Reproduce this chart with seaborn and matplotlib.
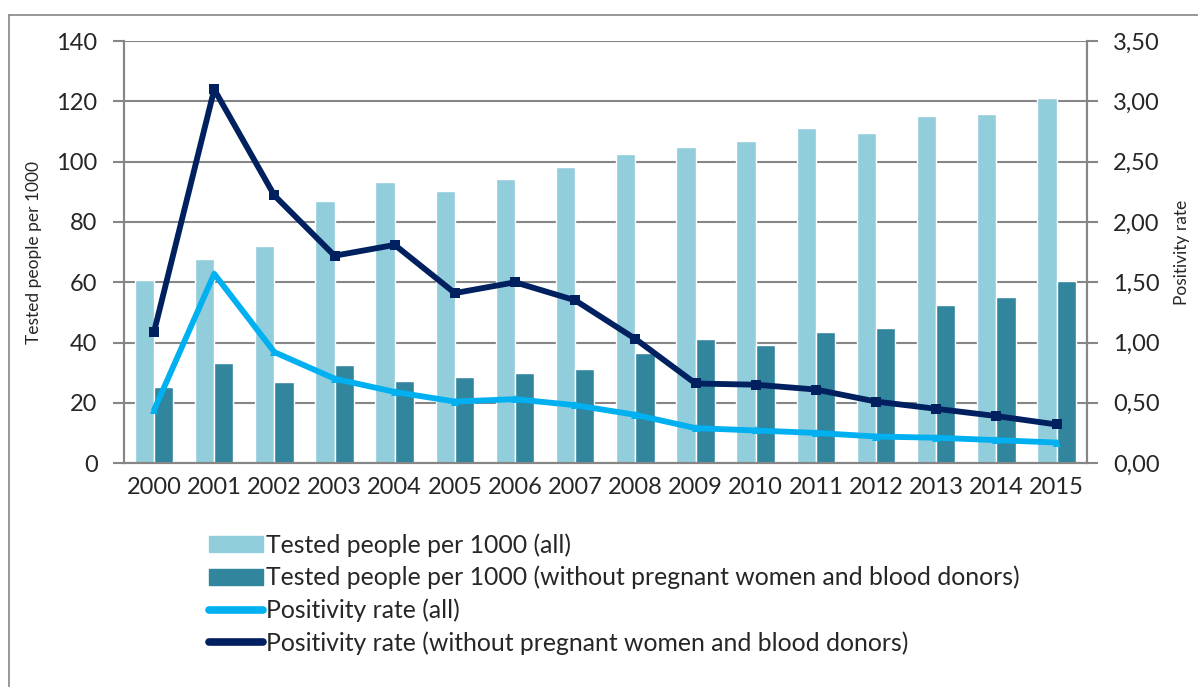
import pandas as pd
import matplotlib.pyplot as plt
import matplotlib.lines as mlines
import numpy as np
import seaborn as sns

# %%
# values

years = ['2000', '2001', '2002', '2003', '2004', '2005', '2006', '2007',
         '2008', '2009', '2010', '2011', '2012', '2013', '2014', '2015']

tested_all = [60.7, 67.7, 72.0, 86.9, 93.2, 90.2, 94.2, 98.2,
              102.5, 104.8, 106.8, 111.1, 109.5, 115.1, 115.8, 121.1]
tested_excl = [25.2, 33.2, 26.9, 32.5, 27.2, 28.5, 29.9, 31.2,
               36.5, 41.1, 39.2, 43.5, 44.8, 52.4, 55.1, 60.4]

pos_all = [0.44, 1.57, 0.92, 0.70, 0.59, 0.51, 0.53, 0.48,
           0.40, 0.29, 0.27, 0.25, 0.22, 0.21, 0.19, 0.17]
pos_excl = [1.09, 3.10, 2.22, 1.72, 1.81, 1.41, 1.50, 1.35,
            1.03, 0.66, 0.65, 0.61, 0.51, 0.45, 0.39, 0.32]

lbl_bar1 = 'Tested people per 1000 (all)'
lbl_bar2 = 'Tested people per 1000 (without pregnant women and blood donors)'
lbl_line1 = 'Positivity rate (all)'
lbl_line2 = 'Positivity rate (without pregnant women and blood donors)'

# %%

df_bars = pd.DataFrame({'ano': years, lbl_bar1: tested_all, lbl_bar2: tested_excl})
df_bars = df_bars.melt(id_vars='ano', var_name='serie', value_name='valor')

df_lines = pd.DataFrame({'pos': np.arange(len(years)), 'all': pos_all, 'excl': pos_excl})

# %%

sns.set_style('white')
plt.rcParams['font.family'] = ['Lato', 'DejaVu Sans']

c_bar1 = '#92CDDC'
c_bar2 = '#31859C'
c_line1 = '#00B0F0'
c_line2 = '#002060'
c_grid = '#868686'

fig = plt.figure(figsize=(11.98, 6.87), dpi=100)
ax = fig.add_axes([0.1035, 0.326, 0.8035, 0.614])

sns.barplot(data=df_bars, x='ano', y='valor', hue='serie',
            palette=[c_bar1, c_bar2], width=0.64, gap=0, saturation=1,
            legend=False, ax=ax, zorder=2)

ax.set_ylim(0, 140)
ax.set_yticks(range(0, 141, 20))
ax.set_xlim(-0.5, len(years) - 0.5)
ax.grid(axis='y', color=c_grid, linewidth=1.5, zorder=0)
ax.set_axisbelow(True)

ax2 = ax.twinx()
sns.lineplot(data=df_lines, x='pos', y='all', color=c_line1, linewidth=4.2,
             marker='^', markersize=6, markeredgewidth=0, ax=ax2, zorder=3)
sns.lineplot(data=df_lines, x='pos', y='excl', color=c_line2, linewidth=4.2,
             marker='s', markersize=7, markeredgewidth=0, ax=ax2, zorder=3)
ax2.set_ylim(0, 3.5)
ax2.set_yticks(np.arange(0, 3.51, 0.5))
ax2.set_yticklabels([f'{v:.2f}'.replace('.', ',') for v in np.arange(0, 3.51, 0.5)])
ax2.set_xlim(-0.5, len(years) - 0.5)

# spines / ticks
for a in (ax, ax2):
    for s in a.spines.values():
        s.set_color(c_grid)
        s.set_linewidth(1.5)
    a.spines['top'].set_visible(False)

ax.set_xticks(np.arange(len(years)))
ax.set_xticklabels(years)
ax.tick_params(axis='x', length=0, pad=10, labelsize=17)
ax.set_xticks(np.arange(-0.5, len(years)), minor=True)
ax.tick_params(axis='x', which='minor', length=8, width=1.5, color=c_grid, direction='out')
ax.tick_params(axis='y', length=8, width=1.5, color=c_grid, direction='out', pad=11, labelsize=17, left=True)
ax2.tick_params(axis='y', length=8, width=1.5, color=c_grid, direction='out', pad=11, labelsize=17, right=True)

ax.set_xlabel('')
ax.set_ylabel('Tested people per 1000', fontsize=12.5, labelpad=10)
ax2.set_ylabel('Positivity rate', fontsize=12.5, labelpad=10)

# legend
handles = [
    plt.Rectangle((0, 0), 1, 1, color=c_bar1),
    plt.Rectangle((0, 0), 1, 1, color=c_bar2),
    mlines.Line2D([], [], color=c_line1, linewidth=5.5, solid_capstyle='round'),
    mlines.Line2D([], [], color=c_line2, linewidth=5.5, solid_capstyle='round'),
]
fig.legend(handles, [lbl_bar1, lbl_bar2, lbl_line1, lbl_line2],
           loc='upper left', bbox_to_anchor=(0.164, 0.242), frameon=False,
           fontsize=17.8, handlelength=2.2, handleheight=0.65, handletextpad=0.1,
           labelspacing=0.37, borderpad=0)

# outer frame
fig.add_artist(mlines.Line2D([9 / 1198, 9 / 1198], [0, 1 - 15 / 687],
                             transform=fig.transFigure, color=c_grid, linewidth=1.2))
fig.add_artist(mlines.Line2D([9 / 1198, 1], [1 - 15 / 687, 1 - 15 / 687],
                             transform=fig.transFigure, color=c_grid, linewidth=1.2))

plt.savefig('out.png', dpi=100)
